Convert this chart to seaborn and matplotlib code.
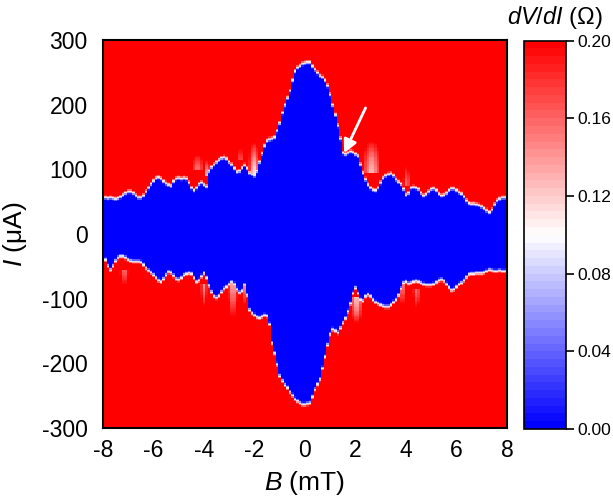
import numpy as np
import pandas as pd
import matplotlib
matplotlib.use("Agg")
import matplotlib.pyplot as plt
import seaborn as sns

# ---------------- data ----------------
B_mT = np.round(np.linspace(-8, 8, 161), 1)          # field axis, 0.1 mT steps
I_uA = np.arange(-300, 301, 2)                        # current axis, 2 uA steps

# upper critical-current envelope (uA) for each B
upper_Ic = [58, 57, 56, 57, 56, 55, 56, 58, 61, 64,
            66, 66, 64, 60, 57, 57, 60, 66, 72, 78,
            83, 87, 88, 86, 82, 79, 77, 75, 82, 86,
            87, 86, 87, 86, 80, 72, 68, 72, 78, 80,
            77, 74, 98, 104, 108, 112, 115, 118, 119, 117,
            112, 108, 102, 97, 98, 103, 107, 102, 95, 93,
            91, 98, 112, 125, 137, 145, 147, 148, 150, 160,
            172, 188, 200, 211, 222, 238, 252, 258, 261, 264,
            265,
            266, 266, 260, 255, 250, 245, 243, 238, 230, 216,
            200, 185, 168, 148, 126, 124, 126, 128, 127, 124,
            121, 108, 95, 85, 77, 72, 69, 68, 72, 80,
            87, 91, 93, 94, 91, 85, 81, 78, 70, 61,
            64, 72, 73, 72, 70, 64, 60, 62, 66, 70,
            71, 68, 63, 60, 61, 64, 68, 71, 71, 68,
            65, 63, 58, 52, 48, 47, 47, 46, 45, 43,
            40, 37, 34, 38, 46, 52, 55, 57, 57, 56]

# lower critical-current envelope (uA) for each B
lower_Ic = [-34, -40, -50, -56, -50, -42, -37, -35, -35, -37,
            -40, -42, -43, -43, -43, -44, -48, -53, -57, -60,
            -64, -68, -72, -74, -70, -64, -59, -60, -65, -70,
            -71, -68, -64, -62, -61, -62, -68, -74, -72, -66,
            -61, -68, -80, -90, -97, -99, -96, -90, -85, -82,
            -78, -75, -78, -86, -91, -88, -79, -95, -118, -123,
            -126, -129, -130, -128, -126, -127, -140, -169, -185, -202,
            -220, -228, -234, -238, -245, -250, -256, -259, -262, -264,
            -264,
            -263, -262, -252, -241, -233, -225, -208, -190, -172, -155,
            -148, -150, -153, -146, -138, -131, -120, -108, -92, -84,
            -92, -102, -104, -97, -94, -97, -102, -106, -108, -110,
            -112, -113, -113, -110, -106, -102, -95, -85, -76, -74,
            -77, -76, -74, -73, -74, -76, -78, -79, -79, -79,
            -78, -75, -72, -71, -73, -78, -83, -87, -86, -82,
            -78, -76, -72, -67, -63, -62, -62, -61, -61, -61,
            -60, -58, -56, -57, -58, -58, -57, -58, -58, -58]

# faint resistive streaks outside the envelope (B range, I range, lowest dV/dI)
streak_B_lo = [-4.55, -4.0, -2.7, -2.25, 2.25, 3.85, -7.35, -4.15, -3.05, -2.55, 1.8, 3.7, 4.25]
streak_B_hi = [-3.95, -3.75, -2.4, -1.8, 3.05, 4.2, -6.95, -3.85, -2.65, -2.25, 2.3, 4.0, 4.6]
streak_I_lo = [100, 90, 115, 90, 95, 76, -86, -120, -142, -120, -146, -120, -122]
streak_I_hi = [130, 120, 140, 150, 155, 112, -56, -78, -32, -44, -98, -72, -86]
streak_val = [0.15, 0.12, 0.16, 0.10, 0.12, 0.15, 0.15, 0.14, 0.08, 0.11, 0.11, 0.13, 0.15]

cbar_ticks = [0.00, 0.04, 0.08, 0.12, 0.16, 0.20]
x_ticks = [-8, -6, -4, -2, 0, 2, 4, 6, 8]
y_ticks = [-300, -200, -100, 0, 100, 200, 300]

# ---------------- build the dV/dI map ----------------
U = np.array(upper_Ic, dtype=float)[None, :]
L = np.array(lower_Ic, dtype=float)[None, :]
II = I_uA[:, None].astype(float)
BB = B_mT[None, :]
edge_w = 9.0
d = np.maximum(II - U, L - II)
Z = 0.22 * np.clip(d / edge_w + 0.5, 0, 1)
for b0, b1, i0, i1, sv in zip(streak_B_lo, streak_B_hi, streak_I_lo, streak_I_hi, streak_val):
    bm, bh = (b0 + b1) / 2, (b1 - b0) / 2
    wb = np.clip(1 - np.abs(BB - bm) / bh, 0, 1) ** 0.7
    if i0 > 0:          # upper streak: strongest near the envelope (low I end)
        t = (II - i0) / (i1 - i0)
    else:               # lower streak: strongest near the envelope (high I end)
        t = (i1 - II) / (i1 - i0)
    wi = np.where((t >= 0) & (t <= 1), 1 - np.clip(t, 0, 1) ** 1.5, 0)
    target = 0.22 - (0.22 - sv) * wb * wi
    Z = np.minimum(Z, np.where(Z > 0.11, target, Z))

df = pd.DataFrame(Z, index=I_uA, columns=B_mT)

# ---------------- style ----------------
sns.set_theme(style="white")
plt.rcParams["font.family"] = ["Liberation Sans", "DejaVu Sans"]
plt.rcParams["mathtext.fontset"] = "custom"
plt.rcParams["mathtext.it"] = "Liberation Sans:italic"
plt.rcParams["mathtext.rm"] = "Liberation Sans"

fig = plt.figure(figsize=(6.13, 5.04), dpi=100)
ax = fig.add_axes([0.168, 0.1508, 0.659, 0.7698])
cax = fig.add_axes([0.8548, 0.1488, 0.0685, 0.7708])

cmap = plt.get_cmap("bwr", 50)
sns.heatmap(df, ax=ax, cbar_ax=cax, cmap=cmap, vmin=0, vmax=0.2,
            xticklabels=False, yticklabels=False, rasterized=True)


def bx(b):
    return (b + 8) / 0.1 + 0.5


def iy(i):
    return (i + 300) / 2 + 0.5


ax.set_xlim(bx(-8), bx(8))
ax.set_ylim(iy(-300), iy(300))

ax.set_xticks([bx(b) for b in x_ticks])
ax.set_xticklabels([str(b) for b in x_ticks], rotation=0)
ax.set_xticks([bx(b) for b in range(-7, 8, 2)], minor=True)
ax.set_yticks([iy(i) for i in y_ticks])
ax.set_yticklabels([str(i) for i in y_ticks], rotation=0)
ax.set_yticks([iy(i) for i in range(-250, 300, 100)], minor=True)
ax.tick_params(which="both", direction="in", bottom=True, left=True,
               top=False, right=False, color="black", width=1.2)
ax.tick_params(which="major", length=6, labelsize=16.5, labelcolor="black")
ax.tick_params(axis="x", which="major", pad=8)
ax.tick_params(axis="y", which="major", pad=11)
ax.tick_params(which="minor", length=3.5)

for s in ax.spines.values():
    s.set_visible(True)
    s.set_color("black")
    s.set_linewidth(1.5)

ax.set_xlabel(r"$B$ (mT)", fontsize=19, color="black", labelpad=5)
ax.set_ylabel(r"$I$ (μA)", fontsize=19, color="black", labelpad=9)

# arrow marking the feature
ax.annotate("", xy=(bx(1.55), iy(125)), xytext=(bx(2.4), iy(195)),
            arrowprops=dict(arrowstyle="-|>", color="white", lw=2,
                            mutation_scale=20, shrinkA=0, shrinkB=0))

# colorbar
cbar = ax.collections[0].colorbar
cbar.set_ticks(cbar_ticks)
cbar.set_ticklabels([f"{t:.2f}" for t in cbar_ticks])
cbar.ax.tick_params(direction="out", length=6, width=1.2, right=True,
                    labelsize=12.5, color="black", labelcolor="black", pad=2.5)
cbar.outline.set_visible(True)
cbar.outline.set_edgecolor("black")
cbar.outline.set_linewidth(1.2)
fig.text(0.905, 0.965, r"$dV/dI$ (Ω)", ha="center", va="center", fontsize=17, color="black")

fig.savefig("out.png", dpi=100, facecolor="white")
